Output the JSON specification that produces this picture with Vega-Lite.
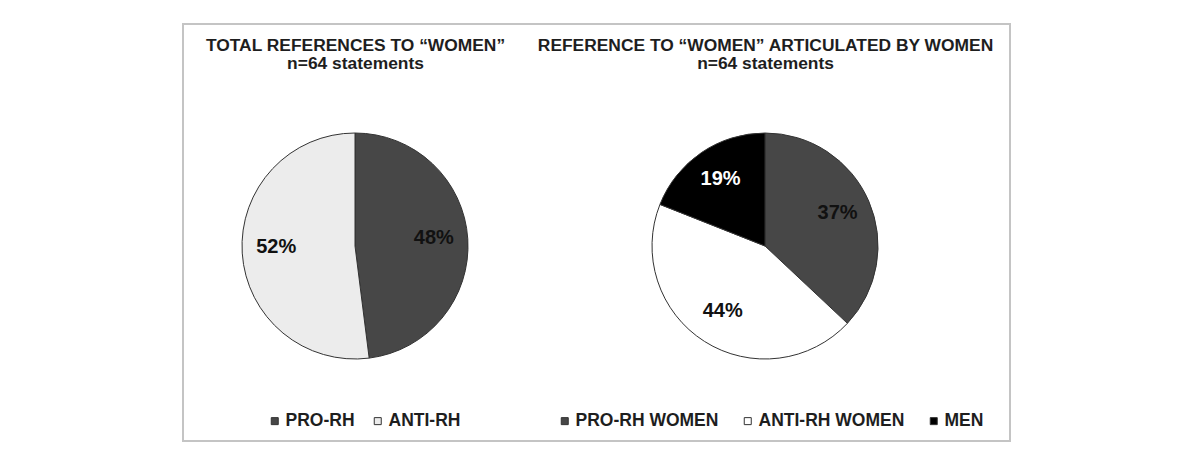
{
  "$schema": "https://vega.github.io/schema/vega-lite/v6.json",
  "autosize": {"type": "none"},
  "padding": {"left": 183, "top": 24, "right": 10, "bottom": 8},
  "width": 827,
  "height": 417,
  "background": "white",
  "config": {
    "view": {"stroke": "#c4c4c4", "strokeWidth": 2},
    "font": "Liberation Sans"
  },
  "datasets": {
    "total": [
      {"panel": "TOTAL REFERENCES TO “WOMEN”", "group": "PRO-RH", "share": 0.48, "ord": 1},
      {"panel": "TOTAL REFERENCES TO “WOMEN”", "group": "ANTI-RH", "share": 0.52, "ord": 2}
    ],
    "women": [
      {"panel": "REFERENCE TO “WOMEN” ARTICULATED BY WOMEN", "group": "PRO-RH WOMEN", "share": 0.37, "ord": 1},
      {"panel": "REFERENCE TO “WOMEN” ARTICULATED BY WOMEN", "group": "ANTI-RH WOMEN", "share": 0.44, "ord": 2},
      {"panel": "REFERENCE TO “WOMEN” ARTICULATED BY WOMEN", "group": "MEN", "share": 0.19, "ord": 3}
    ]
  },
  "encoding": {
    "x": {
      "field": "panel",
      "type": "nominal",
      "scale": {
        "type": "point",
        "domain": ["TOTAL REFERENCES TO “WOMEN”", "REFERENCE TO “WOMEN” ARTICULATED BY WOMEN"],
        "padding": 0.5085,
        "align": 0.4125
      },
      "axis": {
        "orient": "top",
        "title": null,
        "domain": false,
        "ticks": false,
        "tickSize": 0,
        "grid": false,
        "labelAngle": 0,
        "labelAlign": "center",
        "labelBaseline": "top",
        "labelPadding": -12,
        "labelFont": "Liberation Sans",
        "labelFontSize": 17.4,
        "labelFontWeight": "bold",
        "labelColor": "#1e1e1e",
        "labelLineHeight": 18.5,
        "labelLimit": 0,
        "labelOverlap": false,
        "labelBound": false,
        "labelFlush": false,
        "labelExpr": "[datum.label, 'n=64 statements']"
      }
    },
    "theta": {"field": "share", "type": "quantitative", "stack": true},
    "order": {"field": "ord", "type": "quantitative"}
  },
  "layer": [
    {
      "data": {"name": "total"},
      "mark": {"type": "arc", "outerRadius": 113, "stroke": "#333333", "strokeWidth": 1, "yOffset": 13.5},
      "encoding": {
        "color": {
          "field": "group",
          "type": "nominal",
          "scale": {"domain": ["PRO-RH", "ANTI-RH"], "range": ["#474747", "#ececec"]},
          "legend": {
            "orient": "none",
            "legendX": 83,
            "legendY": 388,
            "direction": "horizontal",
            "title": null,
            "padding": 0,
            "symbolType": "square",
            "symbolSize": 49,
            "symbolStrokeColor": "#333333",
            "symbolStrokeWidth": 1,
            "labelFont": "Liberation Sans",
            "labelFontSize": 17.5,
            "labelFontWeight": "bold",
            "labelColor": "#1e1e1e",
            "labelOffset": 2,
            "columnPadding": 14
          }
        }
      }
    },
    {
      "data": {"name": "total"},
      "mark": {"type": "text", "radius": 79, "yOffset": 10, "fontSize": 20, "fontWeight": "bold", "font": "Liberation Sans"},
      "encoding": {
        "text": {"field": "share", "type": "quantitative", "format": ".0%"},
        "color": {"value": "#111111"}
      }
    },
    {
      "data": {"name": "women"},
      "mark": {"type": "arc", "outerRadius": 113, "stroke": "#333333", "strokeWidth": 1, "yOffset": 13.5},
      "encoding": {
        "color": {
          "field": "group",
          "type": "nominal",
          "scale": {"domain": ["PRO-RH WOMEN", "ANTI-RH WOMEN", "MEN"], "range": ["#474747", "#ffffff", "#000000"]},
          "legend": {
            "orient": "none",
            "legendX": 373,
            "legendY": 388,
            "direction": "horizontal",
            "title": null,
            "padding": 0,
            "symbolType": "square",
            "symbolSize": 49,
            "symbolStrokeColor": "#333333",
            "symbolStrokeWidth": 1,
            "labelFont": "Liberation Sans",
            "labelFontSize": 17.5,
            "labelFontWeight": "bold",
            "labelColor": "#1e1e1e",
            "labelOffset": 2,
            "columnPadding": 20
          }
        }
      }
    },
    {
      "data": {"name": "women"},
      "mark": {"type": "text", "radius": 79, "yOffset": 12, "fontSize": 20, "fontWeight": "bold", "font": "Liberation Sans"},
      "encoding": {
        "text": {"field": "share", "type": "quantitative", "format": ".0%"},
        "color": {
          "condition": {"test": "datum.group === 'MEN'", "value": "#ffffff"},
          "value": "#111111"
        }
      }
    }
  ],
  "resolve": {"scale": {"color": "independent"}, "legend": {"color": "independent"}}
}
